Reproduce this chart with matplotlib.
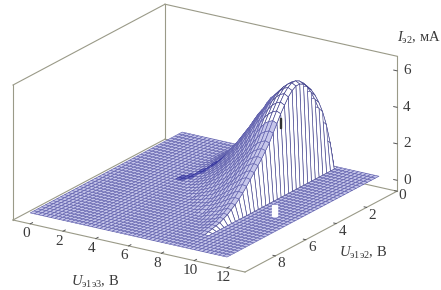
import numpy as np
import matplotlib
matplotlib.use('Agg')
import matplotlib.pyplot as plt
from matplotlib.patches import Rectangle
from mpl_toolkits.mplot3d import proj3d

plt.rcParams['font.family'] = ['Liberation Serif']
plt.rcParams['mathtext.fontset'] = 'custom'
plt.rcParams['mathtext.rm'] = 'Liberation Serif'
plt.rcParams['mathtext.it'] = 'Liberation Serif:italic'

# Grid of the measured surface
u13_grid = np.arange(0, 12.25, 0.25)
u12_grid = np.arange(0, 10.25, 0.25)

# Current values, one row per U13 value, steps of 0.25 V in U12 (zero past the row end)
hump_u13 = [3.5, 3.75, 4, 4.25, 4.5, 4.75, 5, 5.25, 5.5, 5.75, 6, 6.25, 6.5, 6.75, 7,
            7.25, 7.5, 7.75, 8, 8.25, 8.5, 8.75, 9, 9.25]
hump_rows = [
    [0, .02, .03, .04, .05, .05, .05, .04, .03, .03, .02, .02, .01, .01, .01],
    [0, .07, .1, .12, .14, .15, .14, .13, .11, .09, .07, .06, .04, .03, .02, .01],
    [0, .13, .19, .23, .27, .29, .29, .27, .23, .2, .16, .13, .1, .08, .05, .04, .02, .01],
    [0, .21, .31, .38, .44, .48, .49, .46, .41, .35, .29, .23, .19, .14, .11, .08, .05, .03, .01],
    [0, .29, .43, .53, .6, .67, .69, .66, .6, .53, .43, .36, .29, .23, .18, .13, .09, .06, .02],
    [0, .38, .57, .7, .81, .89, .95, .91, .85, .74, .64, .52, .43, .35, .28, .21, .16, .1, .06, .02],
    [0, .49, .74, .9, 1.04, 1.15, 1.24, 1.23, 1.14, 1.03, .89, .75, .61, .51, .41, .33, .25, .19, .13, .06, .01],
    [0, .59, .9, 1.1, 1.27, 1.41, 1.52, 1.52, 1.44, 1.32, 1.18, .99, .82, .68, .57, .47, .36, .28, .2, .12, .05, .01],
    [0, .68, 1.05, 1.3, 1.48, 1.65, 1.79, 1.83, 1.74, 1.61, 1.46, 1.26, 1.05, .87, .74, .61, .5, .39, .3, .2, .13, .06],
    [0, .79, 1.23, 1.52, 1.72, 1.91, 2.09, 2.18, 2.11, 1.96, 1.8, 1.58, 1.34, 1.1, .92, .79, .64, .51, .4, .29, .2, .11, .02],
    [0, .85, 1.38, 1.68, 1.93, 2.15, 2.33, 2.5, 2.43, 2.28, 2.1, 1.88, 1.63, 1.38, 1.18, 1, .83, .68, .55, .43, .3, .2, .13, .05],
    [0, .94, 1.54, 1.88, 2.14, 2.39, 2.59, 2.79, 2.82, 2.62, 2.45, 2.22, 1.97, 1.68, 1.43, 1.23, 1.03, .86, .68, .54, .4, .29, .2, .11, .03],
    [0, 1.02, 1.7, 2.08, 2.37, 2.66, 2.88, 3.1, 3.2, 3.01, 2.82, 2.56, 2.3, 1.98, 1.7, 1.44, 1.25, 1.06, .86, .67, .51, .38, .26, .16, .1, .03],
    [0, 1.09, 1.82, 2.24, 2.56, 2.84, 3.12, 3.33, 3.5, 3.33, 3.15, 2.91, 2.63, 2.31, 1.96, 1.68, 1.44, 1.23, 1.05, .84, .67, .49, .35, .25, .14, .07],
    [0, 1.14, 1.94, 2.39, 2.74, 3.04, 3.34, 3.57, 3.76, 3.65, 3.5, 3.27, 3, 2.66, 2.28, 1.94, 1.67, 1.44, 1.22, .99, .8, .61, .46, .3, .19, .11, .04],
    [0, 1.19, 2.05, 2.54, 2.91, 3.24, 3.53, 3.81, 4.02, 4.06, 3.81, 3.61, 3.36, 3.03, 2.62, 2.26, 1.93, 1.68, 1.44, 1.19, .98, .78, .62, .41, .29, .21, .12, .04],
    [0, 1.23, 2.16, 2.68, 3.08, 3.43, 3.74, 4.05, 4.27, 4.4, 4.18, 3.96, 3.74, 3.39, 2.99, 2.6, 2.2, 1.94, 1.67, 1.41, 1.19, .97, .75, .57, .4, .26, .13, .04],
    [0, 1.3, 2.23, 2.79, 3.21, 3.58, 3.91, 4.23, 4.46, 4.6, 4.5, 4.28, 4.05, 3.72, 3.3, 2.88, 2.51, 2.19, 1.91, 1.63, 1.35, 1.12, .93, .7, .51, .37, .23, .14, .05],
    [0, 1.4, 2.4, 3.0, 3.45, 3.85, 4.2, 4.5, 4.7, 4.82, 4.8, 4.65, 4.4, 4.07, 3.68, 3.23, 2.79, 2.45, 2.16, 1.86, 1.62, 1.32, 1.13, .88, .69, .49, .34, .25, .15, .05],
    [0, 1.5, 2.55, 3.25, 3.75, 4.15, 4.5, 4.78, 4.95, 5.05, 5.05, 4.92, 4.68, 4.35, 4.0, 3.55, 3.09, 2.73, 2.42, 2.11, 1.8, 1.55, 1.29, 1.03, .82, .62, .46, .31, .21, .1, .05],
    [0, 1.55, 2.65, 3.4, 3.95, 4.4, 4.75, 5.02, 5.2, 5.3, 5.3, 5.18, 4.95, 4.62, 4.25, 3.85, 3.4, 2.97, 2.65, 2.32, 2.05, 1.73, 1.46, 1.19, .97, .76, .54, .38, .27, .16, .11, .05],
    [0, 1.55, 2.7, 3.5, 4.08, 4.55, 4.92, 5.2, 5.4, 5.5, 5.5, 5.38, 5.15, 4.8, 4.42, 4.0, 3.55, 3.12, 2.8, 2.48, 2.2, 1.92, 1.65, 1.38, 1.13, .9, .68, .51, .34, .23, .17, .11, .06],
    [0, 1.5, 2.65, 3.48, 4.08, 4.58, 4.98, 5.28, 5.5, 5.62, 5.62, 5.48, 5.25, 4.9, 4.52, 4.1, 3.65, 3.22, 2.9, 2.58, 2.3, 2.02, 1.75, 1.48, 1.22, 1.0, .8, .62, .46, .35, .23, .17, .12, .06],
    [0, 1.4, 2.5, 3.32, 3.95, 4.45, 4.85, 5.15, 5.38, 5.5, 5.5, 5.36, 5.12, 4.78, 4.42, 4.0, 3.58, 3.15, 2.84, 2.52, 2.24, 1.97, 1.7, 1.44, 1.18, .96, .76, .6, .44, .33, .22, .16, .11, .05],
]

x_ticks = [0, 2, 4, 6, 8, 10, 12]
y_ticks = [0, 2, 4, 6, 8]
z_ticks = [0, 2, 4, 6]
x_lim = (-1.05, 13.1)
y_lim = (0, 10)
z_lim = (-0.6, 6.8)

I = np.zeros((len(u13_grid), len(u12_grid)))
for x, row in zip(hump_u13, hump_rows):
    I[int(x / 0.25), :len(row)] = row
X, Y = np.meshgrid(u13_grid, u12_grid, indexing='ij')

fig = plt.figure(figsize=(4.41, 2.90), dpi=100)
ax = fig.add_axes([0, 0, 1, 1], projection='3d', proj_type='ortho', computed_zorder=False)
ax.view_init(elev=20.2, azim=-57)
ax.set_box_aspect((276.6, 279, 143.8))
ax.set_xlim(*x_lim)
ax.set_ylim(y_lim[1], y_lim[0])
ax.set_zlim(*z_lim)
ax.set_axis_off()
ax.patch.set_alpha(0)


def to_2d(x, y, z):
    px, py, _ = proj3d.proj_transform(x, y, z, ax.get_proj())
    return px, py


# Fit the box corners on the wanted pixels
fig.canvas.draw()
p_left = ax.transData.transform(to_2d(x_lim[0], y_lim[1], z_lim[0]))
p_right = ax.transData.transform(to_2d(x_lim[1], y_lim[0], z_lim[0]))
scale = (397 - 13) / (p_right[0] - p_left[0])
side = ax.get_window_extent().width * scale
ax.set_position([0, 0, side / 441, side / 290])
fig.canvas.draw()
p_left = ax.transData.transform(to_2d(x_lim[0], y_lim[1], z_lim[0]))
pos = ax.get_position()
ax.set_position([pos.x0 + (13 - p_left[0]) / 441, pos.y0 + (290 - 220 - p_left[1]) / 290, pos.width, pos.height])

box_color = '#9a9a88'
line_kw = dict(color=box_color, lw=0.8)
x0, x1 = x_lim
y0, y1 = y_lim
z0, z1 = z_lim

# Back walls and floor edges behind the surface
for xs, ys, zs in [([x0, x0], [y0, y0], [z0, z1]), ([x0, x0], [y1, y1], [z0, z1]),
                   ([x1, x1], [y0, y0], [z0, z1]), ([x0, x0], [y1, y0], [z1, z1]),
                   ([x0, x1], [y0, y0], [z1, z1]), ([x0, x0], [y1, y0], [z0, z0]),
                   ([x0, x1], [y0, y0], [z0, z0])]:
    ax.plot(xs, ys, zs, zorder=1, **line_kw)

# Cell colours: the dense mesh reads as a tint everywhere except on the wall
n_cells = (len(u13_grid) - 1, len(u12_grid) - 1)
face = np.tile(matplotlib.colors.to_rgba('#c6c6ea'), (*n_cells, 1))
edge = np.tile(matplotlib.colors.to_rgba('#6262ae'), (*n_cells, 1))
for i in range(n_cells[0]):
    for j in range(n_cells[1]):
        on_wall = u13_grid[i] >= 9.25 or (u13_grid[i] >= 8.25 and u12_grid[j] < 3.75)
        if on_wall and I[i:i + 2, j:j + 2].max() > 0:
            face[i, j] = (1, 1, 1, 1)
            edge[i, j] = matplotlib.colors.to_rgba('#45458f')
        # dark fold where the slope starts
        if 2.5 <= u12_grid[j] < 4.25 and abs(u13_grid[i] - (3.6 + (4 - u12_grid[j]) * 0.6)) <= 0.25:
            face[i, j] = matplotlib.colors.to_rgba('#6a6abf')
            edge[i, j] = matplotlib.colors.to_rgba('#30309a')

surf = ax.plot_surface(X, Y, I, rstride=1, cstride=1, facecolors=face, linewidth=0.45,
                       shade=False, zorder=2)
surf.set_edgecolor(edge.reshape(-1, 4))

# Front floor edges
ax.plot([x0, x1], [y1, y1], [z0, z0], zorder=3, **line_kw)
ax.plot([x1, x1], [y1, y0], [z0, z0], zorder=3, **line_kw)

text_kw = dict(fontsize=11, color='#3a3a3a', ha='center', va='center', textcoords='offset pixels')
for t in x_ticks:
    ax.plot([t, t], [y1, y1 - 0.15], [z0, z0], color='#555555', lw=0.7, zorder=3)
    ax.annotate(str(t), to_2d(t, y1, z0), xytext=(-4, -10), **text_kw)
for t in y_ticks:
    ax.plot([x1, x1 - 0.15], [t, t], [z0, z0], color='#555555', lw=0.7, zorder=3)
    off = (5, -4) if t == 0 else (6, -8)
    ax.annotate(str(t), to_2d(x1, t, z0), xytext=off, **text_kw)
for t in z_ticks:
    ax.plot([x1, x1 - 0.2], [y0, y0], [t, t], color='#555555', lw=0.7, zorder=3)
    ax.annotate(str(t), to_2d(x1, y0, t), xytext=(10, 0), **text_kw)

# Scan marks on the wall
fig.add_artist(Rectangle((272 / 441, 1 - 216 / 290), 5 / 441, 11 / 290, color='white', zorder=10))
fig.add_artist(Rectangle((280 / 441, 1 - 128 / 290), 1 / 441, 10 / 290, color='#333333', zorder=10))

lab_kw = dict(fontsize=10.5, color='#3a3a3a', ha='center', va='center')
fig.text(419 / 441, 1 - 38 / 290, r'$I_{\mathrm{э2}}$, мА', **lab_kw)
fig.text(95 / 441, 1 - 282 / 290, r'$U_{\mathrm{э1э3}}$, В', **lab_kw)
fig.text(363 / 441, 1 - 253 / 290, r'$U_{\mathrm{э1э2}}$, В', **lab_kw)

fig.savefig('out.png', dpi=100)
